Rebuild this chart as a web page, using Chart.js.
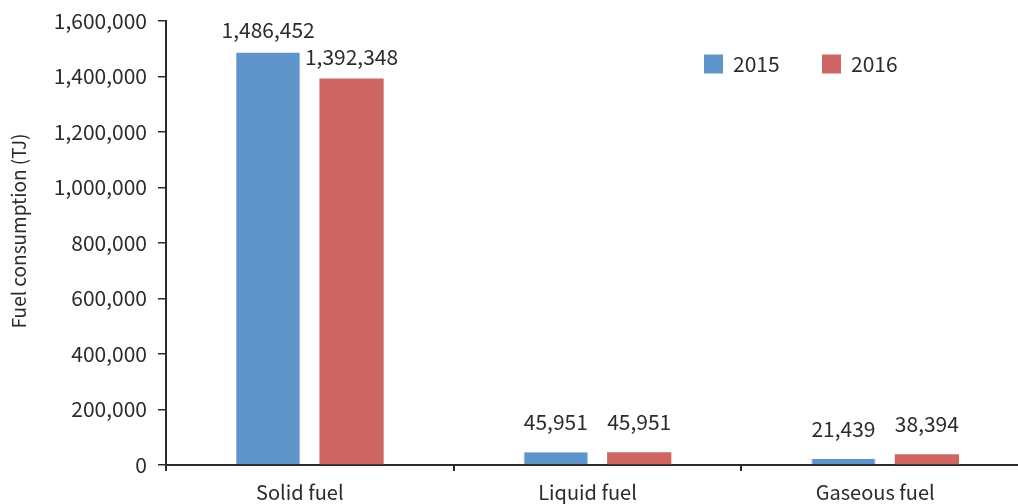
<!DOCTYPE html>
<html>
<head>
<meta charset="utf-8">
<script src="https://cdn.jsdelivr.net/npm/chart.js@4/dist/chart.umd.min.js"></script>
<style>
  html, body { margin: 0; padding: 0; background: #fff; overflow: hidden; }
  #wrap { position: relative; width: 1029px; height: 522px; }
</style>
</head>
<body>
<div id="wrap"><canvas id="c"></canvas></div>
<script>
// Fuel consumption by fuel type, 2015 vs 2016 (TJ)
const categories = ['Solid fuel', 'Liquid fuel', 'Gaseous fuel'];
const seriesNames = ['2015', '2016'];
const values2015 = [1486452, 45951, 21439];
const values2016 = [1392348, 45951, 38394];
const yTicks = [0, 200000, 400000, 600000, 800000, 1000000, 1200000, 1400000, 1600000];
const yTitle = 'Fuel consumption (TJ)';

const FONT = '"Noto Sans CJK KR", "Noto Sans", sans-serif';
const INK = '#2b2b2b';
const fmt = v => Number(v).toLocaleString('en-US');

// Value labels drawn above each bar
const barValueLabels = {
  id: 'barValueLabels',
  afterDatasetsDraw(chart, args, opts) {
    const ctx = chart.ctx;
    ctx.save();
    ctx.font = opts.size + 'px ' + FONT;
    ctx.fillStyle = INK;
    ctx.textAlign = 'center';
    ctx.textBaseline = 'middle';
    chart.data.datasets.forEach((ds, di) => {
      const meta = chart.getDatasetMeta(di);
      meta.data.forEach((bar, i) => {
        ctx.fillText(fmt(ds.data[i]), bar.x, bar.y - opts.gap[i]);
      });
    });
    ctx.restore();
  }
};

// Legend with square swatches placed inside the plot area
const insideLegend = {
  id: 'insideLegend',
  afterDraw(chart, args, opts) {
    const ctx = chart.ctx;
    ctx.save();
    ctx.font = opts.size + 'px ' + FONT;
    ctx.textBaseline = 'middle';
    ctx.textAlign = 'left';
    let x = opts.x;
    chart.data.datasets.forEach(ds => {
      ctx.fillStyle = ds.backgroundColor;
      ctx.fillRect(x, opts.y - opts.box / 2, opts.box, opts.box);
      ctx.fillStyle = INK;
      ctx.fillText(ds.label, x + opts.box + 10, opts.y);
      x += opts.step;
    });
    ctx.restore();
  }
};

// Rotated value-axis title
const axisTitle = {
  id: 'axisTitle',
  afterDraw(chart, args, opts) {
    const ctx = chart.ctx;
    ctx.save();
    ctx.font = opts.size + 'px ' + FONT;
    ctx.fillStyle = INK;
    ctx.textAlign = 'center';
    ctx.textBaseline = 'middle';
    ctx.translate(opts.x, opts.y);
    ctx.rotate(-Math.PI / 2);
    ctx.fillText(opts.text, 0, 0);
    ctx.restore();
  }
};

new Chart(document.getElementById('c'), {
  type: 'bar',
  data: {
    labels: categories,
    datasets: [
      { label: seriesNames[0], data: values2015, backgroundColor: '#5E94C9',
        borderColor: '#8CB6DE', borderWidth: { right: 1, left: 1, top: 0, bottom: 0 },
        categoryPercentage: 0.58, barPercentage: 0.77 },
      { label: seriesNames[1], data: values2016, backgroundColor: '#CF6560',
        borderWidth: 0, categoryPercentage: 0.58, barPercentage: 0.77 }
    ]
  },
  options: {
    responsive: true,
    maintainAspectRatio: false,
    animation: false,
    layout: { padding: { top: 21, right: 0, left: 0, bottom: 0 } },
    plugins: {
      legend: { display: false },
      tooltip: { enabled: false },
      barValueLabels: { size: 21, gap: [22, 30, 30] },
      insideLegend: { x: 704, y: 64, box: 19, step: 118, size: 21 },
      axisTitle: { text: yTitle, x: 19, y: 231, size: 19 }
    },
    scales: {
      x: {
        offset: true,
        grid: { display: true, offset: true, drawOnChartArea: false, drawTicks: true,
                tickLength: 6, color: INK, lineWidth: 2 },
        border: { display: true, color: INK, width: 2 },
        ticks: { color: INK, font: { family: FONT, size: 20 }, padding: 9,
                 labelOffset: -10, maxRotation: 0 },
        afterFit(scale) { scale.height = 522 - 465; }
      },
      y: {
        min: 0, max: 1600000,
        afterBuildTicks(scale) { scale.ticks = yTicks.map(v => ({ value: v })); },
        grid: { display: true, drawOnChartArea: false, drawTicks: true,
                tickLength: 8, color: INK, lineWidth: 1.5 },
        border: { display: true, color: INK, width: 2 },
        ticks: { color: INK, font: { family: FONT, size: 21 }, padding: 11,
                 callback: v => fmt(v) },
        afterFit(scale) {
          scale.width = 166;
          scale.paddingTop = 0;
          scale.paddingBottom = 0;
        }
      }
    }
  },
  plugins: [barValueLabels, insideLegend, axisTitle]
});
</script>
</body>
</html>
